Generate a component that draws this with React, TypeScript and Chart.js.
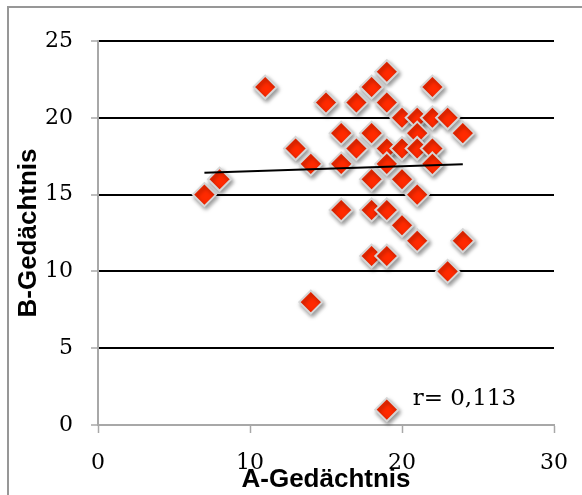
import React, { useEffect, useRef } from "react";
import { Chart, registerables } from "chart.js";

Chart.register(...registerables);

// A-Gedächtnis (x) and B-Gedächtnis (y) scores
const aScores = [7, 8, 11, 13, 14, 14, 15, 16, 16, 16, 17, 17, 18, 18, 18, 18, 18, 19, 19, 19, 19, 19, 19, 19, 20, 20, 20, 20, 21, 21, 21, 21, 21, 22, 22, 22, 22, 23, 23, 24, 24];
const bScores = [15, 16, 22, 18, 17, 8, 21, 19, 17, 14, 21, 18, 22, 19, 16, 14, 11, 23, 21, 18, 17, 14, 11, 1, 20, 18, 16, 13, 20, 19, 18, 15, 12, 22, 20, 18, 17, 20, 10, 19, 12];

// linear trend line end points
const trendX = [7, 24];
const trendY = [16.43, 16.97];

// axes
const xTitle = "A-Gedächtnis";
const yTitle = "B-Gedächtnis";
const xRange = [0, 30];
const yRange = [0, 25];
const xStep = 10;
const yStep = 5;

// correlation note
const noteText = "r= 0,113";
const notePos = [20.7, 1.3];

const shadowPlugin = {
  id: "pointShadow",
  beforeDatasetDraw(chart: any, args: any) {
    if (chart.data.datasets[args.index].label !== "points") return;
    const ctx = chart.ctx;
    ctx.save();
    ctx.shadowColor = "rgba(0,0,0,0.4)";
    ctx.shadowBlur = 4;
    ctx.shadowOffsetX = 1.5;
    ctx.shadowOffsetY = 2.5;
  },
  afterDatasetDraw(chart: any, args: any) {
    if (chart.data.datasets[args.index].label !== "points") return;
    chart.ctx.restore();
  },
};

const notePlugin = {
  id: "note",
  afterDraw(chart: any) {
    const ctx = chart.ctx;
    const x = chart.scales.x.getPixelForValue(notePos[0]);
    const y = chart.scales.y.getPixelForValue(notePos[1]);
    ctx.save();
    ctx.font = '23px "DejaVu Serif"';
    ctx.fillStyle = "#000";
    ctx.textAlign = "left";
    ctx.textBaseline = "alphabetic";
    ctx.fillText(noteText, x, y);
    ctx.restore();
  },
};

export default function App() {
  const ref = useRef<HTMLCanvasElement | null>(null);

  useEffect(() => {
    if (!ref.current) return;
    const points = aScores.map((a, i) => ({ x: a, y: bScores[i] }));
    const trend = trendX.map((x, i) => ({ x, y: trendY[i] }));
    const tickFont = { family: '"DejaVu Serif"', size: 22 };
    const titleFont = { family: '"Liberation Sans"', size: 26, weight: "bold" as const };
    const chart = new Chart(ref.current, {
      type: "scatter",
      data: {
        datasets: [
          {
            label: "trend",
            type: "line",
            data: trend,
            borderColor: "#000",
            borderWidth: 2,
            pointRadius: 0,
            showLine: true,
            fill: false,
            order: 0,
          } as any,
          {
            label: "points",
            data: points,
            pointStyle: "rectRot",
            pointRadius: 11.5,
            pointHoverRadius: 11.5,
            backgroundColor: "#ff2a00",
            borderColor: "#d6d6d6",
            borderWidth: 2,
            order: 1,
            clip: false,
          } as any,
        ],
      },
      options: {
        animation: false,
        responsive: false,
        events: [],
        layout: { padding: { top: 41, right: 28, bottom: 0, left: 0 } },
        plugins: { legend: { display: false }, tooltip: { enabled: false } },
        scales: {
          x: {
            type: "linear",
            min: xRange[0],
            max: xRange[1],
            afterFit: (s: any) => {
              s.height = 70;
              s.paddingLeft = 0;
              s.paddingRight = 0;
            },
            ticks: { stepSize: xStep, font: tickFont, color: "#000", padding: 17 },
            grid: {
              drawOnChartArea: false,
              drawTicks: true,
              tickLength: 8,
              tickColor: "#a8a8a8",
              tickWidth: 1.5,
            },
            border: { display: true, color: "#a8a8a8", width: 2 },
            title: { display: true, text: xTitle, font: titleFont, color: "#000", padding: { top: 0, bottom: 0 } },
          },
          y: {
            type: "linear",
            min: yRange[0],
            max: yRange[1],
            afterFit: (s: any) => {
              s.width = 98;
              s.paddingTop = 0;
              s.paddingBottom = 0;
            },
            ticks: { stepSize: yStep, font: tickFont, color: "#000", padding: 18 },
            grid: {
              color: (c: any) => (c.tick && c.tick.value === 0 ? "rgba(0,0,0,0)" : "#000"),
              lineWidth: 2,
              drawTicks: true,
              tickLength: 7,
              tickColor: "#a8a8a8",
              tickWidth: 1.5,
            },
            border: { display: true, color: "#a8a8a8", width: 2 },
            title: { display: true, text: yTitle, font: titleFont, color: "#000", padding: { top: 13, bottom: 13 } },
          },
        },
      },
      plugins: [shadowPlugin, notePlugin],
    });
    return () => chart.destroy();
  }, []);

  return (
    <div style={{ position: "fixed", left: 0, top: 0, width: 582, height: 495, background: "#fff", overflow: "hidden" }}>
      <div
        style={{
          position: "absolute",
          left: 7,
          top: 6,
          width: 700,
          height: 700,
          borderLeft: "2px solid #979797",
          borderTop: "2px solid #979797",
        }}
      />
      <canvas ref={ref} width={582} height={495} style={{ position: "absolute", left: 0, top: 0, width: 582, height: 495 }} />
    </div>
  );
}
